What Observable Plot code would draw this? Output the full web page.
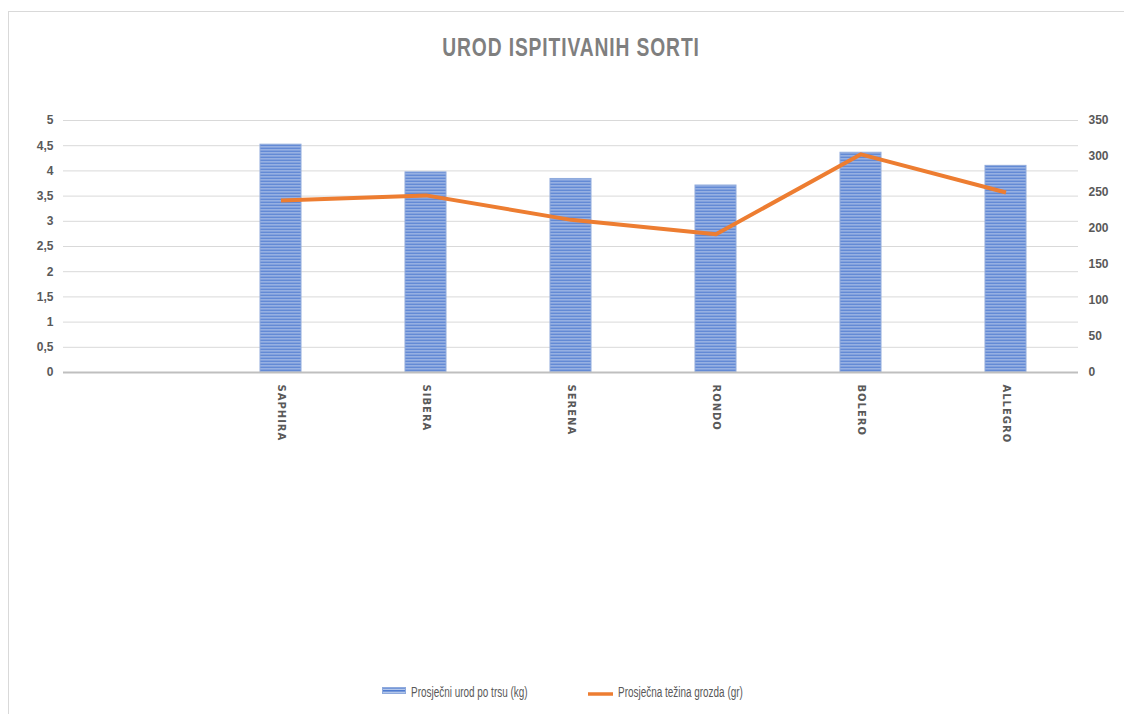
<!DOCTYPE html>
<html>
<head>
<meta charset="utf-8">
<script src="https://cdn.jsdelivr.net/npm/d3@7"></script>
<script src="https://cdn.jsdelivr.net/npm/@observablehq/plot@0.6"></script>
<style>
  html, body { margin: 0; padding: 0; background: #fff; }
  body { width: 1124px; height: 714px; position: relative; overflow: hidden; font-family: "Liberation Sans", sans-serif; }
  #frame { position: absolute; left: 8px; top: 11px; width: 1200px; height: 800px; border: 1px solid #d9d9d9; box-sizing: border-box; }
  #chart { position: absolute; left: 0; top: 0; }
  #title { position: absolute; left: 0; width: 1142px; top: 34px; text-align: center; font: bold 26px/26px "Liberation Sans", sans-serif; color: #7f7f7f; letter-spacing: 1.2px; transform: scaleX(0.74); transform-origin: 571px 0; }
  .leg { position: absolute; top: 684px; font: 14px/16px "Liberation Sans", sans-serif; color: #595959; transform: scaleX(0.71); transform-origin: 0 0; white-space: nowrap; }
  .sw { position: absolute; }
</style>
</head>
<body>
<div id="frame"></div>
<div id="chart"></div>
<div id="title">UROD ISPITIVANIH SORTI</div>
<svg class="sw" style="left:382px;top:687px" width="24" height="7">
  <defs>
    <pattern id="legstripes" width="4" height="3" patternUnits="userSpaceOnUse">
      <rect width="4" height="3" fill="#b4c7ea"></rect>
      <rect width="4" height="1.6" fill="#4f7bd0"></rect>
    </pattern>
  </defs>
  <rect x="0.5" y="0.5" width="23" height="6" fill="url(#legstripes)" stroke="#8faadc" stroke-width="1"></rect>
</svg>
<div class="leg" style="left:411px">Prosječni urod po trsu (kg)</div>
<svg class="sw" style="left:588px;top:692px" width="25" height="4">
  <line x1="0" y1="2" x2="25" y2="2" stroke="#ED7D31" stroke-width="3.5"></line>
</svg>
<div class="leg" style="left:618px">Prosječna težina grozda (gr)</div>
<script>
// ---- data ----
const categories = ["", "SAPHIRA", "SIBERA", "SERENA", "RONDO", "BOLERO", "ALLEGRO"];
const sorts = ["SAPHIRA", "SIBERA", "SERENA", "RONDO", "BOLERO", "ALLEGRO"];
const yieldKg = [4.52, 3.97, 3.84, 3.71, 4.36, 4.10];      // Prosječni urod po trsu (kg)
const weightGr = [239, 246, 212, 192, 303, 250];           // Prosječna težina grozda (gr)
const leftTicks = [0, 0.5, 1, 1.5, 2, 2.5, 3, 3.5, 4, 4.5, 5];
const rightTicks = [0, 50, 100, 150, 200, 250, 300, 350];
const leftMax = 5, rightMax = 350;

const table = sorts.map((s, i) => ({sort: s, kg: yieldKg[i], gr: weightGr[i]}));
const toLeft = v => v * leftMax / rightMax;

const axisFont = {fontFamily: "Liberation Sans, sans-serif", fontSize: 12, fontWeight: "bold", fill: "#595959"};

const plot = Plot.plot({
  width: 1124,
  height: 714,
  marginTop: 120,
  marginBottom: 342,
  marginLeft: 63,
  marginRight: 46,
  style: {background: "transparent", overflow: "visible"},
  x: {domain: categories, padding: 0, axis: null, label: null},
  y: {domain: [0, leftMax], axis: null, label: null},
  marks: [
    Plot.gridY(leftTicks, {stroke: "#d9d9d9", strokeOpacity: 1, strokeWidth: 1}),
    Plot.barY(table, {x: "sort", y: "kg", fill: "url(#stripes)", stroke: "#8faadc", strokeWidth: 1, insetLeft: 52, insetRight: 52}),
    Plot.ruleY([0], {stroke: "#bfbfbf", strokeWidth: 2}),
    Plot.line(table, {x: "sort", y: d => toLeft(d.gr), stroke: "#ED7D31", strokeWidth: 4, strokeLinejoin: "round", strokeLinecap: "butt"}),
    Plot.axisY(leftTicks, {anchor: "left", label: null, tickSize: 0, tickPadding: 10, tickFormat: d => String(d).replace(".", ","), ...axisFont}),
    Plot.axisY(rightTicks.map(toLeft), {anchor: "right", label: null, tickSize: 0, tickPadding: 10, tickFormat: (d, i) => String(rightTicks[i]), ...axisFont}),
    Plot.axisX({anchor: "bottom", label: null, tickSize: 0, tickPadding: 12, tickRotate: 90, fontFamily: "DejaVu Sans, sans-serif", fontSize: 10, fontWeight: "bold", fill: "#595959", tickFormat: d => d})
  ]
});

// striped fill pattern for bars
const ns = "http://www.w3.org/2000/svg";
const defs = document.createElementNS(ns, "defs");
defs.innerHTML = '<pattern id="stripes" width="4" height="3" patternUnits="userSpaceOnUse" y="0.5">' +
  '<rect width="4" height="3" fill="#b4c7ea"></rect><rect width="4" height="1.6" fill="#4f7bd0"></rect></pattern>';
plot.insertBefore(defs, plot.firstChild);
plot.querySelectorAll("[aria-label='x-axis tick label'] text").forEach(t => t.style.letterSpacing = "1px");
document.getElementById("chart").appendChild(plot);
</script>
</body>
</html>
